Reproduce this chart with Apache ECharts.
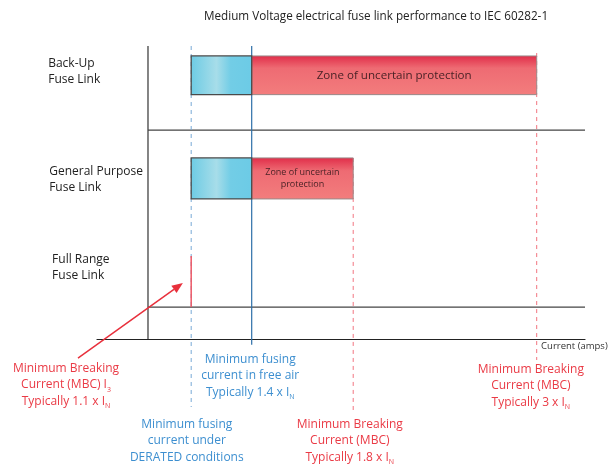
<!DOCTYPE html>
<html><head><meta charset="utf-8">
<script src="https://cdn.jsdelivr.net/npm/echarts@6/dist/echarts.min.js"></script>
<style>html,body{margin:0;padding:0;background:#fff}#c{width:612px;height:464px}</style>
</head><body><div id="c"></div>
<script>
// ---------------- data (schematic units: x = current scale 0..100, y = vertical scale 0..100, downward) -------------
const titleText = 'Medium Voltage electrical fuse link performance to IEC 60282-1';
const rowLabels = ['Back-Up\nFuse Link', 'General Purpose\nFuse Link', 'Full Range\nFuse Link'];
const rowLabelX = [-10.0, -9.8, -9.2];
const rowLabelY = [8.7, 45.6, 75.6];

// minimum fusing zone (cyan): [xStart, xEnd, yTop, yBottom]
const fusingBars = [[19.3, 31.7, 3.4, 16.6], [19.3, 31.7, 38.2, 52.2]];
// zone of uncertain protection (red): [xStart, xEnd, yTop, yBottom]
const uncertainBars = [[31.7, 90.1, 3.4, 16.6], [31.7, 52.5, 38.2, 52.2]];
const uncertainLabels = ['Zone of uncertain protection', 'Zone of uncertain\nprotection'];
// full range fuse: [x, yTop, yBottom]
const fullRangeLine = [[19.3, 71.7, 89.1]];

// axis frame
const yAxisX = 10.45;
const separatorsY = [28.7, 89.1];

// reference current lines: [x, yTop, yBottom]
const deratedLine = [[19.3, 0, 123.2]];
const freeAirLine = [[31.7, 0, 102]];
const mbcLines = [[52.5, 38.2, 124.2], [90.1, 2.4, 107.2]];

// arrow: [xFrom, yFrom, xTo, yTo]
const arrow = [[-3.9, 106.5, 17.6, 80.9]];

// annotations: [x, yTop]
const redNotes = [
  '{a|Minimum Breaking}\n{a|Current (MBC) I}{s|3}\n{a|Typically 1.1 x I}{s|N}',
  '{a|Minimum Breaking}\n{a|Current (MBC)}\n{a|Typically 1.8 x I}{s|N}',
  '{a|Minimum Breaking}\n{a|Current (MBC)}\n{a|Typically 3 x I}{s|N}'
];
const redNotePos = [[-6.35, 107.2], [51.8, 126.3], [88.9, 107.5]];
const blueNotes = [
  '{a|Minimum fusing}\n{a|current in free air}\n{a|Typically 1.4 x I}{s|N}',
  '{a|Minimum fusing}\n{a|current under}\n{a|DERATED conditions}'
];
const blueNotePos = [[31.4, 104.1], [18.4, 126.3]];
const axisName = 'Current (amps)';
const axisNamePos = [[91, 102.4]];

// ---------------- styles -------------
const FONT = '"Open Sans", sans-serif';
const RED_TXT = '#ea3a45';
const BLUE_TXT = '#3d8fd0';

const chart = echarts.init(document.getElementById('c'), null, {renderer: 'canvas'});

function vline(color, dashed, width) {
  return function (params, api) {
    const p0 = api.coord([api.value(0), api.value(1)]);
    const p1 = api.coord([api.value(0), api.value(2)]);
    return {type: 'line', shape: {x1: p0[0], y1: p0[1], x2: p1[0], y2: p1[1]},
      style: {stroke: color, lineWidth: width || 1, lineDash: dashed ? [4, 4] : null}};
  };
}
function rectOf(api) {
  const p0 = api.coord([api.value(0), api.value(2)]);
  const p1 = api.coord([api.value(1), api.value(3)]);
  return {x: p0[0], y: p0[1], width: p1[0] - p0[0], height: p1[1] - p0[1]};
}
function notes(texts, color) {
  return function (params, api) {
    const p = api.coord([api.value(0), api.value(1)]);
    return {type: 'text', x: p[0], y: p[1], style: {
      text: texts[params.dataIndex], align: 'center', verticalAlign: 'top', fill: color,
      rich: {
        a: {fontSize: 12, fontFamily: FONT, lineHeight: 16.5, fill: color},
        s: {fontSize: 7, fontFamily: FONT, lineHeight: 7.5, verticalAlign: 'bottom', fill: color}
      }
    }};
  };
}

const option = {
  animation: false,
  title: {text: titleText, left: 204, top: 11, padding: 0,
    textStyle: {fontFamily: FONT, fontSize: 11.7, fontWeight: 'normal', color: '#222'}},
  grid: {left: 97, right: 27, top: 46, bottom: 125},
  xAxis: {type: 'value', min: 0, max: 100, axisLine: {show: true, onZero: false, lineStyle: {color: '#222', width: 1.2}},
    axisTick: {show: false}, axisLabel: {show: false}, splitLine: {show: false}},
  yAxis: {type: 'value', min: 0, max: 100, inverse: true, show: false},
  series: [
    // frame: vertical axis
    {type: 'custom', data: [[yAxisX, 0, 100]], renderItem: vline('#333', false, 1.2), z: 1},
    // separators
    {type: 'custom', data: separatorsY.map(y => [y]), z: 1, renderItem: function (params, api) {
      const p0 = api.coord([yAxisX, api.value(0)]);
      const p1 = api.coord([100, api.value(0)]);
      return {type: 'line', shape: {x1: p0[0], y1: p0[1], x2: p1[0], y2: p1[1]},
        style: {stroke: '#444', lineWidth: 1.2}};
    }},
    // reference lines
    {type: 'custom', data: deratedLine, renderItem: vline('#78a9d6', true, 1), z: 2},
    {type: 'custom', data: freeAirLine, renderItem: vline('#2d6fa8', false, 1.2), z: 2},
    {type: 'custom', data: mbcLines, renderItem: vline('#f27580', true, 1), z: 2},
    // red bars
    {type: 'custom', data: uncertainBars, z: 3, renderItem: function (params, api) {
      const r = rectOf(api);
      return {type: 'group', children: [
        {type: 'rect', shape: r, style: {
          fill: new echarts.graphic.LinearGradient(0, 0, 0, 1, [
            {offset: 0, color: '#e02c48'}, {offset: 0.32, color: '#ee6b73'}, {offset: 1, color: '#f37d7d'}]),
          stroke: '#9a8a8a', lineWidth: 1}},
        {type: 'text', x: r.x + r.width / 2, y: r.y + r.height / 2, style: {
          text: uncertainLabels[params.dataIndex], align: 'center', verticalAlign: 'middle',
          fill: '#4a2226', fontFamily: FONT,
          fontSize: params.dataIndex === 0 ? 11.6 : 9, lineHeight: params.dataIndex === 0 ? 14 : 12}}
      ]};
    }},
    // cyan bars
    {type: 'custom', data: fusingBars, z: 4, renderItem: function (params, api) {
      const r = rectOf(api);
      return {type: 'rect', shape: r, style: {
        fill: new echarts.graphic.LinearGradient(0, 0, 1, 0, [
          {offset: 0, color: '#6ccbe4'}, {offset: 0.42, color: '#a7dde9'}, {offset: 0.65, color: '#72cde6'}, {offset: 1, color: '#6ccbe6'}]),
        stroke: '#4a4a4a', lineWidth: 1.3}};
    }},
    // full range line
    {type: 'custom', data: fullRangeLine, renderItem: vline('#ee5866', false, 1.5), z: 4},
    // arrow
    {type: 'custom', data: arrow, z: 5, renderItem: function (params, api) {
      const a = api.coord([api.value(0), api.value(1)]);
      const b = api.coord([api.value(2), api.value(3)]);
      const ang = Math.atan2(b[1] - a[1], b[0] - a[0]);
      const L = 11, W = 4.5;
      const bx = b[0] - L * Math.cos(ang), by = b[1] - L * Math.sin(ang);
      const nx = -Math.sin(ang) * W, ny = Math.cos(ang) * W;
      return {type: 'group', children: [
        {type: 'line', shape: {x1: a[0], y1: a[1], x2: bx, y2: by}, style: {stroke: '#e8303c', lineWidth: 1.5}},
        {type: 'polygon', shape: {points: [[b[0], b[1]], [bx + nx, by + ny], [bx - nx, by - ny]]}, style: {fill: '#e8303c'}}
      ]};
    }},
    // row labels
    {type: 'custom', data: rowLabelX.map((x, i) => [x, rowLabelY[i]]), renderItem: function (params, api) {
      const p = api.coord([api.value(0), api.value(1)]);
      return {type: 'text', x: p[0], y: p[1], style: {text: rowLabels[params.dataIndex], align: 'left',
        verticalAlign: 'middle', fill: '#222', fontFamily: FONT, fontSize: 12, lineHeight: 15.5}};
    }},
    // annotations
    {type: 'custom', data: redNotePos, renderItem: notes(redNotes, RED_TXT)},
    {type: 'custom', data: blueNotePos, renderItem: notes(blueNotes, BLUE_TXT)},
    {type: 'custom', data: axisNamePos, renderItem: function (params, api) {
      const p = api.coord([api.value(0), api.value(1)]);
      return {type: 'text', x: p[0], y: p[1], style: {text: axisName, align: 'left', verticalAlign: 'middle',
        fill: '#333', fontFamily: FONT, fontSize: 9.5}};
    }}
  ]
};
chart.setOption(option);
</script></body></html>
